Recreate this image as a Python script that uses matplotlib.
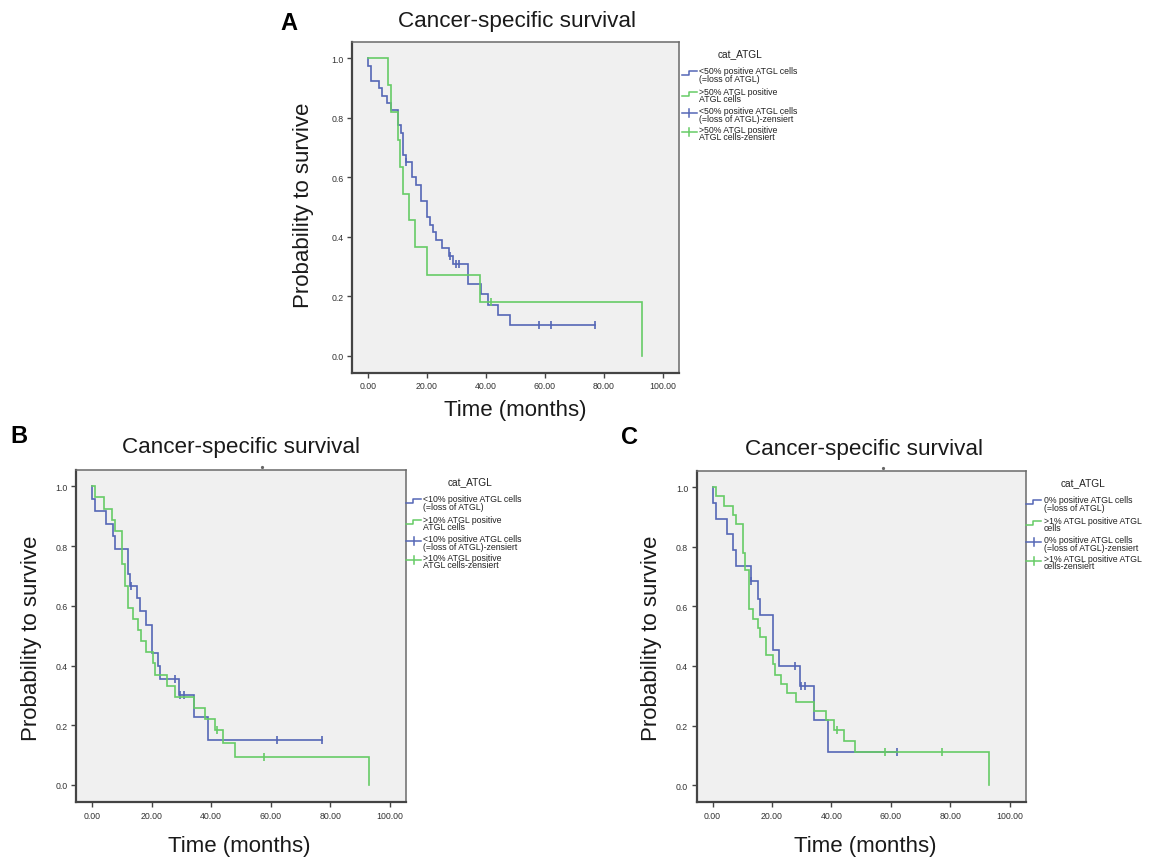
import matplotlib
matplotlib.use('Agg')
import matplotlib.pyplot as plt
from matplotlib.lines import Line2D
import numpy as np

W, H = 1151, 862
plt.rcParams['font.family'] = ['Liberation Sans', 'DejaVu Sans']

# ---------------- data (time in months, survival after each event) ----------------
a_blue_t = [0.0, 1.0, 3.9, 4.8, 6.6, 7.8, 10.3, 11.1, 12.0, 12.8, 15.1, 16.3, 18.0, 20.1,
            21.0, 22.2, 23.1, 25.0, 27.5, 28.9, 34.0, 38.5, 40.7, 44.1, 48.0]
a_blue_s = [0.975, 0.925, 0.900, 0.875, 0.850, 0.825, 0.775, 0.750, 0.675, 0.650, 0.600, 0.575,
            0.520, 0.467, 0.440, 0.415, 0.390, 0.362, 0.337, 0.309, 0.241, 0.206, 0.172, 0.137, 0.103]
a_blue_c = [13.0, 27.8, 29.8, 30.9, 57.9, 62.0, 76.9]

a_green_t = [7.0, 7.9, 10.35, 10.9, 11.8, 13.95, 16.1, 19.9, 37.9, 93.0]
a_green_s = [0.909, 0.818, 0.727, 0.636, 0.545, 0.455, 0.364, 0.273, 0.182, 0.0]
a_green_c = [41.6]

b_blue_t = [0.0, 1.1, 4.8, 6.9, 7.8, 12.1, 12.8, 15.2, 16.1, 18.1, 20.1, 22.0, 22.8, 29.3, 34.1, 38.9]
b_blue_s = [0.958, 0.917, 0.875, 0.833, 0.792, 0.708, 0.667, 0.625, 0.583, 0.537, 0.443,
            0.398, 0.354, 0.303, 0.227, 0.152]
b_blue_c = [13.0, 27.9, 29.6, 30.9, 62.2, 77.4]

b_green_t = [1.1, 4.05, 6.75, 7.65, 9.9, 11.0, 12.1, 13.8, 15.5, 16.3, 18.1, 20.4, 21.1, 25.1,
             27.9, 34.1, 38.0, 41.2, 44.0, 47.9, 92.9]
b_green_s = [0.963, 0.926, 0.889, 0.852, 0.741, 0.667, 0.593, 0.556, 0.519, 0.481, 0.444, 0.407,
             0.370, 0.333, 0.296, 0.259, 0.222, 0.185, 0.139, 0.093, 0.0]
b_green_c = [42.0, 57.9]

c_blue_t = [0.0, 1.1, 4.95, 6.75, 7.9, 12.8, 15.2, 16.0, 20.2, 22.2, 29.5, 34.2, 38.8]
c_blue_s = [0.947, 0.895, 0.842, 0.789, 0.737, 0.684, 0.625, 0.570, 0.455, 0.399, 0.333, 0.219, 0.110]
c_blue_c = [13.0, 27.9, 29.9, 31.1, 62.1]

c_green_t = [1.1, 3.9, 6.97, 7.9, 10.1, 10.9, 12.1, 13.7, 15.2, 16.0, 18.0, 20.2, 21.0, 22.9,
             25.0, 28.1, 34.2, 38.2, 40.9, 44.1, 48.0, 93.0]
c_green_s = [0.970, 0.936, 0.906, 0.876, 0.779, 0.721, 0.592, 0.559, 0.529, 0.497, 0.436, 0.405,
             0.371, 0.340, 0.309, 0.279, 0.249, 0.217, 0.186, 0.148, 0.110, 0.0]
c_green_c = [41.8, 58.2, 77.3]

x_ticks = [0, 20, 40, 60, 80, 100]
x_ticklabels = ['0.00', '20.00', '40.00', '60.00', '80.00', '100.00']
y_ticks = [0.0, 0.2, 0.4, 0.6, 0.8, 1.0]
y_ticklabels = ['0.0', '0.2', '0.4', '0.6', '0.8', '1.0']

title = 'Cancer-specific survival'
xlabel = 'Time (months)'
ylabel = 'Probability to survive'
legend_title = 'cat_ATGL'
legend_a = [['<50% positive ATGL cells', '(=loss of ATGL)'],
            ['>50% ATGL positive', 'ATGL cells'],
            ['<50% positive ATGL cells', '(=loss of ATGL)-zensiert'],
            ['>50% ATGL positive', 'ATGL cells-zensiert']]
legend_b = [['<10% positive ATGL cells', '(=loss of ATGL)'],
            ['>10% ATGL positive', 'ATGL cells'],
            ['<10% positive ATGL cells', '(=loss of ATGL)-zensiert'],
            ['>10% ATGL positive', 'ATGL cells-zensiert']]
legend_c = [['0% positive ATGL cells', '(=loss of ATGL)'],
            ['>1% ATGL positive ATGL', 'cells'],
            ['0% positive ATGL cells', '(=loss of ATGL)-zensiert'],
            ['>1% ATGL positive ATGL', 'cells-zensiert']]

BLUE = '#5567b6'
GREEN = '#66cb66'
FRAME = '#6a6a6a'

fig = plt.figure(figsize=(W / 100, H / 100), dpi=100)
fig.patch.set_facecolor('white')


def fx(x):
    return x / W


def fy(y):
    return 1 - y / H


def make_ax(left, right, top, bottom):
    ax = fig.add_axes([fx(left), fy(bottom), (right - left) / W, (bottom - top) / H])
    ax.set_facecolor('#f0f0f0')
    ax.set_xlim(-5.35, 105.4)
    ax.set_ylim(-0.058, 1.056)
    for side, sp in ax.spines.items():
        sp.set_color(FRAME)
        sp.set_linewidth(1.1)
    ax.spines['left'].set_color('#444444')
    ax.spines['bottom'].set_color('#444444')
    ax.spines['left'].set_linewidth(1.6)
    ax.spines['bottom'].set_linewidth(1.6)
    ax.set_xticks(x_ticks)
    ax.set_xticklabels(x_ticklabels)
    ax.set_yticks(y_ticks)
    ax.set_yticklabels(y_ticklabels)
    ax.tick_params(direction='out', length=3.6, width=1.0, color='#444444',
                   labelsize=6.3, labelcolor='#333333', pad=2.5)
    return ax


def km(ax, t, s, c, color, end=None):
    x = np.concatenate([[0.0], t])
    y = np.concatenate([[1.0], s])
    if end is not None and end > x[-1]:
        x = np.append(x, end)
        y = np.append(y, y[-1])
    ax.plot(x, y, drawstyle='steps-post', color=color, lw=1.2, solid_joinstyle='miter')
    idx = np.searchsorted(x, c, side='right') - 1
    ax.plot(c, y[idx], ls='none', marker='|', ms=5.5, mew=1.2, color=color)


def legend(frame_right, frame_top, sym_off, text_off, title_off, labels):
    fig.text(fx(frame_right + title_off), fy(frame_top + 11), legend_title,
             ha='center', va='center', fontsize=7.3, color='#222222')
    line1 = [29, 49.5, 69, 87.5]
    cols = [BLUE, GREEN, BLUE, GREEN]
    for i, lab in enumerate(labels):
        yy = frame_top + line1[i]
        fig.text(fx(frame_right + text_off), fy(yy), lab[0], ha='left', va='center',
                 fontsize=6.3, color='#222222')
        fig.text(fx(frame_right + text_off), fy(yy + 7.6), lab[1], ha='left', va='center',
                 fontsize=6.3, color='#222222')
        xs0 = frame_right + sym_off
        xs1 = xs0 + 15
        ys = yy + 2.5
        if i < 2:
            xm = xs0 + 7
            fig.add_artist(Line2D([fx(xs0), fx(xm), fx(xm), fx(xs1)],
                                  [fy(ys + 2), fy(ys + 2), fy(ys - 2), fy(ys - 2)],
                                  transform=fig.transFigure, color=cols[i], lw=1.1))
        else:
            xm = xs0 + 7.5
            fig.add_artist(Line2D([fx(xs0), fx(xs1)], [fy(ys), fy(ys)],
                                  transform=fig.transFigure, color=cols[i], lw=1.1))
            fig.add_artist(Line2D([fx(xm), fx(xm)], [fy(ys - 4), fy(ys + 4)],
                                  transform=fig.transFigure, color=cols[i], lw=1.1))


# ---------------- Panel A ----------------
axA = make_ax(352, 679, 42.7, 374)
km(axA, a_blue_t, a_blue_s, a_blue_c, BLUE, end=max(a_blue_c))
km(axA, a_green_t, a_green_s, a_green_c, GREEN)
legend(679, 42.7, 2.7, 20.3, 61, legend_a)
fig.text(fx(517.5), fy(22), title, ha='center', va='center', fontsize=16.2, color='#1a1a1a')
fig.text(fx(288.5), fy(23.5), 'A', ha='center', va='center', fontsize=17, fontweight='bold')
fig.text(fx(515), fy(411), xlabel, ha='center', va='center', fontsize=16, color='#1a1a1a')
fig.text(fx(304), fy(205), ylabel, ha='center', va='center', rotation=90, fontsize=16,
         color='#1a1a1a')

# ---------------- Panel B ----------------
axB = make_ax(76.3, 405.7, 470.7, 803.3)
km(axB, b_blue_t, b_blue_s, b_blue_c, BLUE, end=max(b_blue_c))
km(axB, b_green_t, b_green_s, b_green_c, GREEN)
legend(405.7, 470.7, 0.5, 17.6, 64, legend_b)
fig.text(fx(241), fy(448), title, ha='center', va='center', fontsize=16.2, color='#1a1a1a')
fig.text(fx(18.5), fy(437), 'B', ha='center', va='center', fontsize=17, fontweight='bold')
fig.text(fx(239), fy(847), xlabel, ha='center', va='center', fontsize=16, color='#1a1a1a')
fig.text(fx(32), fy(638), ylabel, ha='center', va='center', rotation=90, fontsize=16,
         color='#1a1a1a')
fig.add_artist(Line2D([fx(262.3)], [fy(467.7)], marker='o', ms=1.3, color='#666666',
                      transform=fig.transFigure))

# ---------------- Panel C ----------------
axC = make_ax(696.7, 1025.7, 471.7, 803.3)
km(axC, c_blue_t, c_blue_s, c_blue_c, BLUE, end=max(c_blue_c))
km(axC, c_green_t, c_green_s, c_green_c, GREEN)
legend(1025.7, 471.7, 0.5, 18.3, 57.6, legend_c)
fig.text(fx(864), fy(450), title, ha='center', va='center', fontsize=16.2, color='#1a1a1a')
fig.text(fx(629), fy(438), 'C', ha='center', va='center', fontsize=17, fontweight='bold')
fig.text(fx(865.5), fy(847), xlabel, ha='center', va='center', fontsize=16, color='#1a1a1a')
fig.text(fx(652), fy(638), ylabel, ha='center', va='center', rotation=90, fontsize=16,
         color='#1a1a1a')
fig.add_artist(Line2D([fx(882.7)], [fy(469.3)], marker='o', ms=1.3, color='#666666',
                      transform=fig.transFigure))

fig.savefig('out.png', dpi=100, facecolor='white')
